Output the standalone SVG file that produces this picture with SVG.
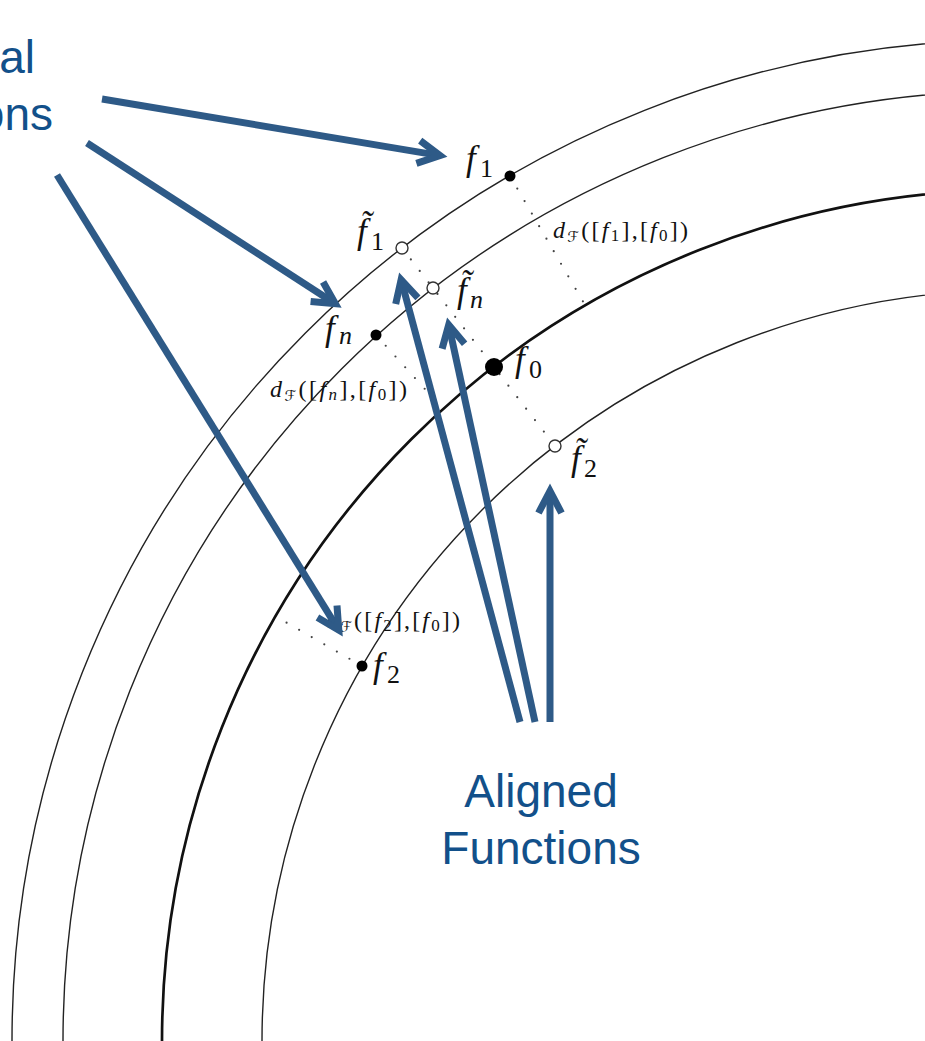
<svg xmlns="http://www.w3.org/2000/svg" width="925" height="1041" viewBox="0 0 925 1041">
  <style>
    .arc { fill: none; stroke: #222; stroke-width: 1.4; }
    .arc0 { fill: none; stroke: #111; stroke-width: 2.7; }
    .dots { fill: none; stroke: #444; stroke-width: 2.2; stroke-linecap: round; stroke-dasharray: 0 14.5; }
    .pt { fill: #000; }
    .opt { fill: #fff; stroke: #333; stroke-width: 1.4; }
    .m { font-family: "Liberation Serif", "Times New Roman", serif; fill: #111; }
    .fi { font-style: italic; font-size: 35px; }
    .sb { font-size: 26px; }
    .sbi { font-size: 26px; font-style: italic; }
    .dl { font-size: 24px; }
    .cal { font-family: "DejaVu Serif", "DejaVu Sans", serif; font-style: italic; font-size: 15px; }
    .ds { font-size: 17px; }
    .arr { fill: none; stroke: #2E5A87; stroke-width: 7; stroke-linecap: butt; }
    .cap { font-family: "Liberation Sans", Arial, sans-serif; font-size: 46px; fill: #12508A; }
  </style>
  <defs>
    <marker id="head" markerUnits="userSpaceOnUse" orient="auto" overflow="visible"
            viewBox="-40 -30 60 60" markerWidth="60" markerHeight="60" refX="0" refY="0">
      <path d="M-22,-11.5 L0,0 L-22,11.5" fill="none" stroke="#2E5A87" stroke-width="7" stroke-linejoin="miter"/>
    </marker>
  </defs>

  <rect width="925" height="1041" fill="#fff"/>

  <!-- concentric orbits about (1013,1041) -->
  <g id="orbits">
    <circle class="arc" cx="1013" cy="1041" r="1001"/>
    <circle class="arc" cx="1013" cy="1041" r="950"/>
    <circle class="arc0" cx="1013" cy="1041" r="851"/>
    <circle class="arc" cx="1013" cy="1041" r="751"/>
  </g>

  <!-- radial distance guides -->
  <g id="guides">
    <line class="dots" x1="510" y1="176" x2="585" y2="305"/>
    <line class="dots" x1="402" y1="248" x2="555" y2="446"/>
    <line class="dots" x1="376" y1="335" x2="443" y2="409"/>
    <line class="dots" x1="362" y1="666" x2="275" y2="616"/>
  </g>

  <!-- points on orbits -->
  <g id="f1"><circle class="pt" cx="510" cy="176" r="5.5"/>
    <text class="m" y="170"><tspan class="fi" x="466">f</tspan><tspan class="sb" x="480" y="177">1</tspan></text></g>
  <g id="fn"><circle class="pt" cx="376" cy="335" r="5.5"/>
    <text class="m" y="340"><tspan class="fi" x="325">f</tspan><tspan class="sbi" x="339" y="344">n</tspan></text></g>
  <g id="f0"><circle class="pt" cx="494" cy="367" r="9"/>
    <text class="m" y="371"><tspan class="fi" x="515">f</tspan><tspan class="sb" x="529" y="378">0</tspan></text></g>
  <g id="f2"><circle class="pt" cx="362" cy="666" r="5.5"/>
    <text class="m" y="677"><tspan class="fi" x="373">f</tspan><tspan class="sb" x="387" y="683">2</tspan></text></g>
  <g id="f1t"><circle class="opt" cx="402" cy="248" r="6"/>
    <text class="m" y="243"><tspan class="fi" x="357">f̃</tspan><tspan class="sb" x="371" y="250">1</tspan></text></g>
  <g id="fnt"><circle class="opt" cx="433" cy="288" r="6"/>
    <text class="m" y="302"><tspan class="fi" x="457">f̃</tspan><tspan class="sbi" x="470" y="308">n</tspan></text></g>
  <g id="f2t"><circle class="opt" cx="555" cy="446" r="6"/>
    <text class="m" y="470"><tspan class="fi" x="571">f̃</tspan><tspan class="sb" x="584" y="477">2</tspan></text></g>

  <!-- distance labels -->
  <g id="d1">
    <text class="m dl" x="553" y="238" textLength="135" lengthAdjust="spacing"><tspan font-style="italic">d</tspan><tspan class="cal" dy="4">ℱ</tspan><tspan dy="-4">([</tspan><tspan font-style="italic">f</tspan><tspan class="ds" dy="3">1</tspan><tspan dy="-3">],[</tspan><tspan font-style="italic">f</tspan><tspan class="ds" dy="3">0</tspan><tspan dy="-3">])</tspan></text>
  </g>
  <g id="dn">
    <text class="m dl" x="270" y="397" textLength="137" lengthAdjust="spacing"><tspan font-style="italic">d</tspan><tspan class="cal" dy="4">ℱ</tspan><tspan dy="-4">([</tspan><tspan font-style="italic">f</tspan><tspan class="ds" dy="3" font-style="italic">n</tspan><tspan dy="-3">],[</tspan><tspan font-style="italic">f</tspan><tspan class="ds" dy="3">0</tspan><tspan dy="-3">])</tspan></text>
  </g>
  <g id="d2">
    <text class="m dl" x="326" y="628" textLength="134" lengthAdjust="spacing"><tspan font-style="italic">d</tspan><tspan class="cal" dy="4">ℱ</tspan><tspan dy="-4">([</tspan><tspan font-style="italic">f</tspan><tspan class="ds" dy="3">2</tspan><tspan dy="-3">],[</tspan><tspan font-style="italic">f</tspan><tspan class="ds" dy="3">0</tspan><tspan dy="-3">])</tspan></text>
  </g>

  <!-- callout captions -->
  <g id="original">
    <text class="cap" x="35" y="73" text-anchor="end">al</text>
    <text class="cap" x="53" y="130" text-anchor="end">ons</text>
  </g>
  <g id="aligned">
    <text class="cap" x="541" y="807" text-anchor="middle">Aligned</text>
    <text class="cap" x="541" y="864" text-anchor="middle">Functions</text>
  </g>

  <!-- callout arrows -->
  <g id="connectors">
    <line class="arr" x1="102" y1="99" x2="440" y2="155.6" marker-end="url(#head)"/>
    <line class="arr" x1="87" y1="143" x2="335.3" y2="303.7" marker-end="url(#head)"/>
    <line class="arr" x1="57" y1="175" x2="338.8" y2="630.2" marker-end="url(#head)"/>
    <line class="arr" x1="520" y1="722" x2="401.1" y2="279.7" marker-end="url(#head)"/>
    <line class="arr" x1="535" y1="722" x2="448.7" y2="324.8" marker-end="url(#head)"/>
    <line class="arr" x1="550" y1="722" x2="550" y2="491" marker-end="url(#head)"/>
  </g>
</svg>
